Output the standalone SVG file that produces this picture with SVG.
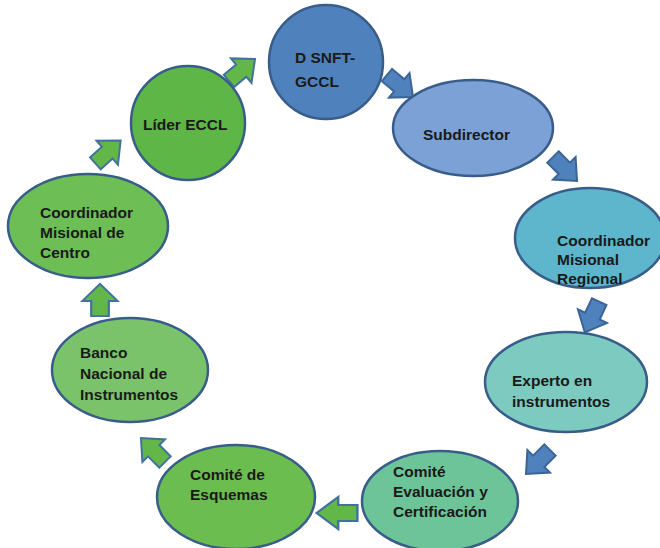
<svg xmlns="http://www.w3.org/2000/svg" xmlns:xlink="http://www.w3.org/1999/xlink" width="660" height="548" viewBox="0 0 660 548">
<style>
.node{stroke:#385D8A;stroke-width:2.5}
.lbl{font-family:"Liberation Sans",Arial,sans-serif;font-weight:bold;font-size:15.5px;fill:#1a1a1a}
.ab{fill:#4F81BD;stroke:#3A6595;stroke-width:2}
.ag{fill:#62B748;stroke:#41719C;stroke-width:2}
</style>
<defs>
<path id="arr" d="M-17,-8 L-1,-8 L-1,-16 L17,0 L-1,16 L-1,8 L-17,8 Z"/>
</defs>
<rect width="660" height="548" fill="#ffffff"/>
<g id="connectors">
<use xlink:href="#arr" class="ab" transform="translate(400,86) rotate(40)"/>
<use xlink:href="#arr" class="ab" transform="translate(565,169) rotate(45)"/>
<use xlink:href="#arr" class="ab" transform="translate(592,317) rotate(115)"/>
<use xlink:href="#arr" class="ab" transform="translate(538,462) rotate(135)"/>
<use xlink:href="#arr" class="ag" transform="translate(337,513) rotate(180) scale(1.2,1)"/>
<use xlink:href="#arr" class="ag" transform="translate(153,450) rotate(-135)"/>
<use xlink:href="#arr" class="ag" transform="translate(100,300) rotate(-90) scale(0.95,1.1)"/>
<use xlink:href="#arr" class="ag" transform="translate(108,152) rotate(-42)"/>
<use xlink:href="#arr" class="ag" transform="translate(242,70) rotate(-40)"/>
</g>
<g id="n1">
<circle class="node" cx="326" cy="62" r="57" fill="#4F81BD"/>
<text class="lbl" x="295" y="63">D SNFT-</text>
<text class="lbl" x="295" y="87">GCCL</text>
</g>
<g id="n2">
<ellipse class="node" cx="473" cy="128" rx="80" ry="48" fill="#7CA1D6"/>
<text class="lbl" x="423" y="140">Subdirector</text>
</g>
<g id="n3">
<ellipse class="node" cx="590" cy="238" rx="75" ry="50" fill="#5DB6CB"/>
<text class="lbl" x="557" y="246">Coordinador</text>
<text class="lbl" x="557" y="265">Misional</text>
<text class="lbl" x="557" y="284">Regional</text>
</g>
<g id="n4">
<ellipse class="node" cx="566" cy="382" rx="81" ry="50" fill="#7DCBC0"/>
<text class="lbl" x="512" y="386">Experto en</text>
<text class="lbl" x="512" y="407">instrumentos</text>
</g>
<g id="n5">
<ellipse class="node" cx="440" cy="501" rx="78" ry="50" fill="#6EC499"/>
<text class="lbl" x="393" y="477">Comité</text>
<text class="lbl" x="393" y="497">Evaluación y</text>
<text class="lbl" x="393" y="517">Certificación</text>
</g>
<g id="n6">
<ellipse class="node" cx="236" cy="497" rx="79" ry="52" fill="#6CBD4F"/>
<text class="lbl" x="190" y="480">Comité de</text>
<text class="lbl" x="190" y="500">Esquemas</text>
</g>
<g id="n7">
<ellipse class="node" cx="130" cy="370" rx="78" ry="52" fill="#7BC36B"/>
<text class="lbl" x="80" y="358">Banco</text>
<text class="lbl" x="80" y="379">Nacional de</text>
<text class="lbl" x="80" y="400">Instrumentos</text>
</g>
<g id="n8">
<ellipse class="node" cx="88" cy="226" rx="80" ry="52" fill="#6CBE55"/>
<text class="lbl" x="40" y="218">Coordinador</text>
<text class="lbl" x="40" y="238">Misional de</text>
<text class="lbl" x="40" y="258">Centro</text>
</g>
<g id="n9">
<circle class="node" cx="188" cy="123" r="57" fill="#5DB646"/>
<text class="lbl" x="143" y="130">Líder ECCL</text>
</g>
</svg>
